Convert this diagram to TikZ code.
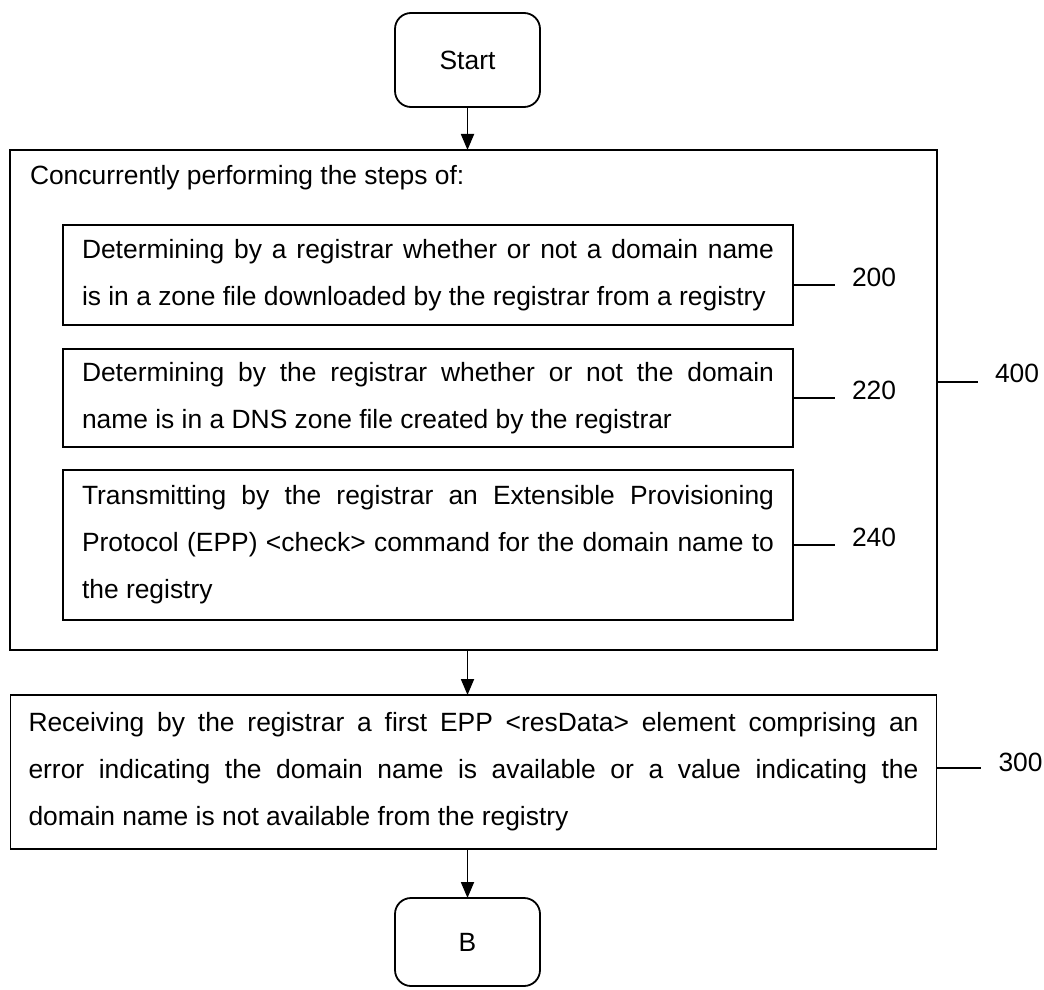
\documentclass[tikz,border=0pt]{standalone}
\usepackage{fontspec}
\setmainfont{Liberation Sans}
\usetikzlibrary{positioning,arrows.meta}

\begin{document}
\begin{tikzpicture}[
        node distance = 12pt,
        every node/.style = {font=\fontsize{13.2}{23.5}\selectfont, outer sep=0pt},
        termbox/.style = {draw, line width=0.9pt, rounded corners=8pt, minimum width=72.5pt, minimum height=47pt},
        stepbox/.style = {draw, line width=0.9pt, text width=346pt, inner xsep=9.5pt, align=justify},
        flow/.style = {-{Triangle[length=8pt,width=6.5pt]}, line width=0.9pt},
        tag/.style = {line width=0.6pt}
    ]
        \useasboundingbox (0,0) rectangle (522pt,-495pt);
        \node[termbox] (start) at (233.75pt,-30pt) {Start};
%
        \node[draw, line width=0.9pt, minimum width=463.5pt, minimum height=250pt, below=21.5pt of start.south, xshift=3pt] (n400) {};
        \node[anchor=west, inner sep=0pt] (lbl) at ([xshift=10pt,yshift=-14pt]n400.north west) {Concurrently performing the steps of:};
%
        \node[stepbox, minimum height=50pt, anchor=north west] (n200) at ([xshift=26.5pt,yshift=-37.5pt]n400.north west)
            {Determining by a registrar whether or not a domain name\linebreak is in a zone file downloaded by the registrar from a registry};
        \node[stepbox, minimum height=49pt, below=of n200] (n220)
            {Determining by the registrar whether or not the domain\linebreak name is in a DNS zone file created by the registrar};
        \node[stepbox, minimum height=75pt, below=11.5pt of n220] (n240)
            {Transmitting by the registrar an Extensible Provisioning\linebreak Protocol (EPP) <check> command for the domain name to\linebreak the registry};
%
        \node[draw, line width=0.9pt, text width=445pt, inner xsep=9pt, minimum height=77pt, align=justify, below=22.5pt of n400] (n300)
            {Receiving by the registrar a first EPP <resData> element comprising an\linebreak error indicating the domain name is available or a value indicating the\linebreak domain name is not available from the registry};
%
        \coordinate (bt) at (start.south |- n300.south);
        \node[termbox, minimum height=44pt, below=24.5pt of bt] (stop) {B};
%
        \draw[flow] (start.south) -- (start.south |- n400.north);
        \draw[flow] (start.south |- n400.south) -- (start.south |- n300.north);
        \draw[flow] (bt) -- (stop);
%
        \draw[tag] ([yshift=-5pt]n200.east) -- ++(21pt,0) coordinate (c200);
        \node[anchor=west, inner sep=0pt] (l200) at ([xshift=8.5pt,yshift=4pt]c200) {200};
        \draw[tag] (n220.east) -- ++(21pt,0) coordinate (c220);
        \node[anchor=west, inner sep=0pt] (l220) at ([xshift=8.5pt,yshift=4pt]c220) {220};
        \draw[tag] (n240.east) -- ++(21pt,0) coordinate (c240);
        \node[anchor=west, inner sep=0pt] (l240) at ([xshift=8.5pt,yshift=4pt]c240) {240};
        \draw[tag] ([yshift=9pt]n400.east) -- ++(20.5pt,0) coordinate (c400);
        \node[anchor=west, inner sep=0pt] (l400) at ([xshift=8.5pt,yshift=4.5pt]c400) {400};
        \draw[tag] ([yshift=2pt]n300.east) -- ++(22pt,0) coordinate (c300);
        \node[anchor=west, inner sep=0pt] (l300) at ([xshift=9pt,yshift=3pt]c300) {300};
    \end{tikzpicture}
\end{document}
